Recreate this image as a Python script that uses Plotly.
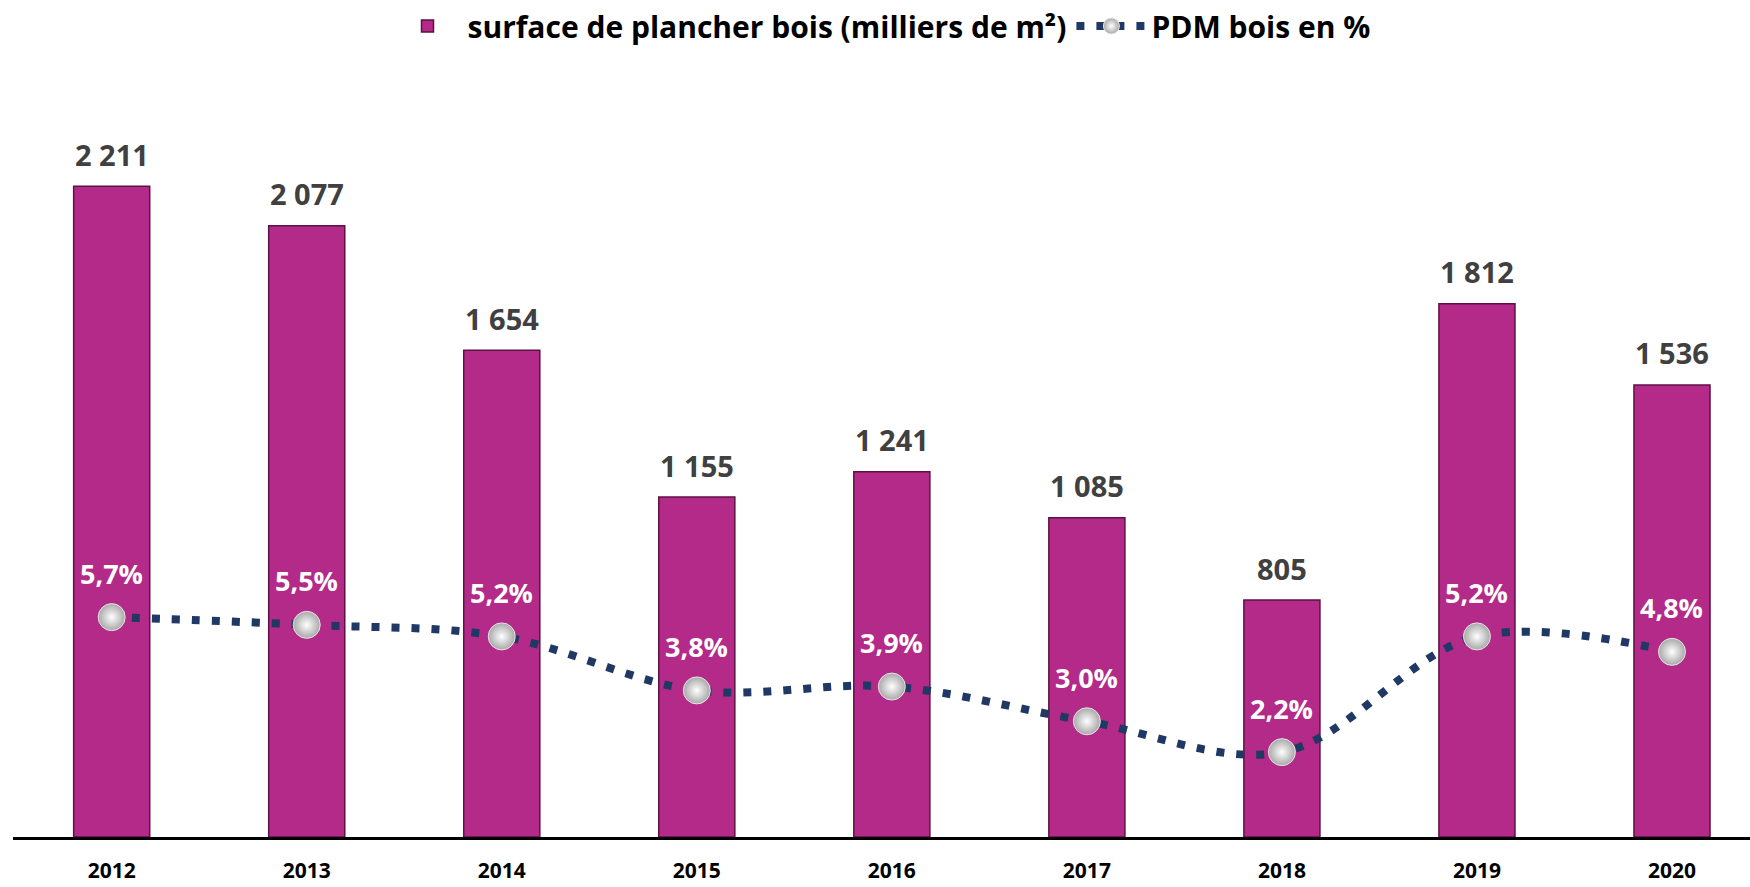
import plotly.graph_objects as go

years = [2012, 2013, 2014, 2015, 2016, 2017, 2018, 2019, 2020]
surface = [2211, 2077, 1654, 1155, 1241, 1085, 805, 1812, 1536]
surface_labels = ["2 211", "2 077", "1 654", "1 155", "1 241", "1 085", "805", "1 812", "1 536"]
pdm = [5.7, 5.5, 5.2, 3.8, 3.9, 3.0, 2.2, 5.2, 4.8]
pdm_labels = ["5,7%", "5,5%", "5,2%", "3,8%", "3,9%", "3,0%", "2,2%", "5,2%", "4,8%"]

FONT = "Open Sans"
BAR_COLOR = "#B32A88"
LINE_COLOR = "#1F3864"

fig = go.Figure()
fig.add_trace(go.Bar(
    x=years, y=surface, name="surface de plancher bois (milliers de m²)",
    width=0.39,
    marker=dict(color=BAR_COLOR, line=dict(color="#5E1146", width=1.5)),
    yaxis="y",
))
fig.add_trace(go.Scatter(
    x=years, y=pdm, name="PDM bois en %",
    mode="lines+markers",
    line=dict(color=LINE_COLOR, width=8, dash="8px,12px", shape="spline", smoothing=1),
    marker=dict(size=27, color="#A8A8A8",
                gradient=dict(type="radial", color="#FFFFFF"),
                line=dict(color="#E6E6E6", width=1)),
    yaxis="y2",
))

annotations = []
for x, v, t in zip(years, surface, surface_labels):
    annotations.append(dict(x=x, y=v, xref="x", yref="y", text=t, showarrow=False,
                            yanchor="middle", yshift=32,
                            font=dict(family=FONT, size=29, color="#404040", weight="bold")))
for x, v, t in zip(years, pdm, pdm_labels):
    annotations.append(dict(x=x, y=v, xref="x", yref="y2", text=t, showarrow=False,
                            yanchor="middle", yshift=44,
                            font=dict(family=FONT, size=27, color="#FFFFFF", weight="bold")))

fig.update_layout(
    width=1750, height=887,
    paper_bgcolor="white", plot_bgcolor="white",
    margin=dict(l=13, r=0, t=100, b=50),
    showlegend=True,
    legend=dict(orientation="h", x=0.5, xanchor="center", y=1.11, yanchor="middle",
                font=dict(family=FONT, size=30, color="#000000", weight="bold"),
                itemwidth=70, bgcolor="rgba(0,0,0,0)"),
    xaxis=dict(range=[2011.494, 2020.40], tickvals=years, ticktext=[str(y) for y in years],
               showgrid=False, zeroline=False, showline=True, linecolor="#000000", linewidth=3,
               ticks="", ticklabelstandoff=13,
               tickfont=dict(family=FONT, size=21, color="#000000", weight="bold")),
    yaxis=dict(range=[0, 2484], visible=False, showgrid=False, zeroline=False),
    yaxis2=dict(range=[0, 18.95], visible=False, overlaying="y", side="right",
                showgrid=False, zeroline=False),
    annotations=annotations,
    bargap=0.5,
)

fig.write_html("out.html", config={"displayModeBar": False},
               post_script="document.body.style.margin='0';document.body.style.overflow='hidden';")
